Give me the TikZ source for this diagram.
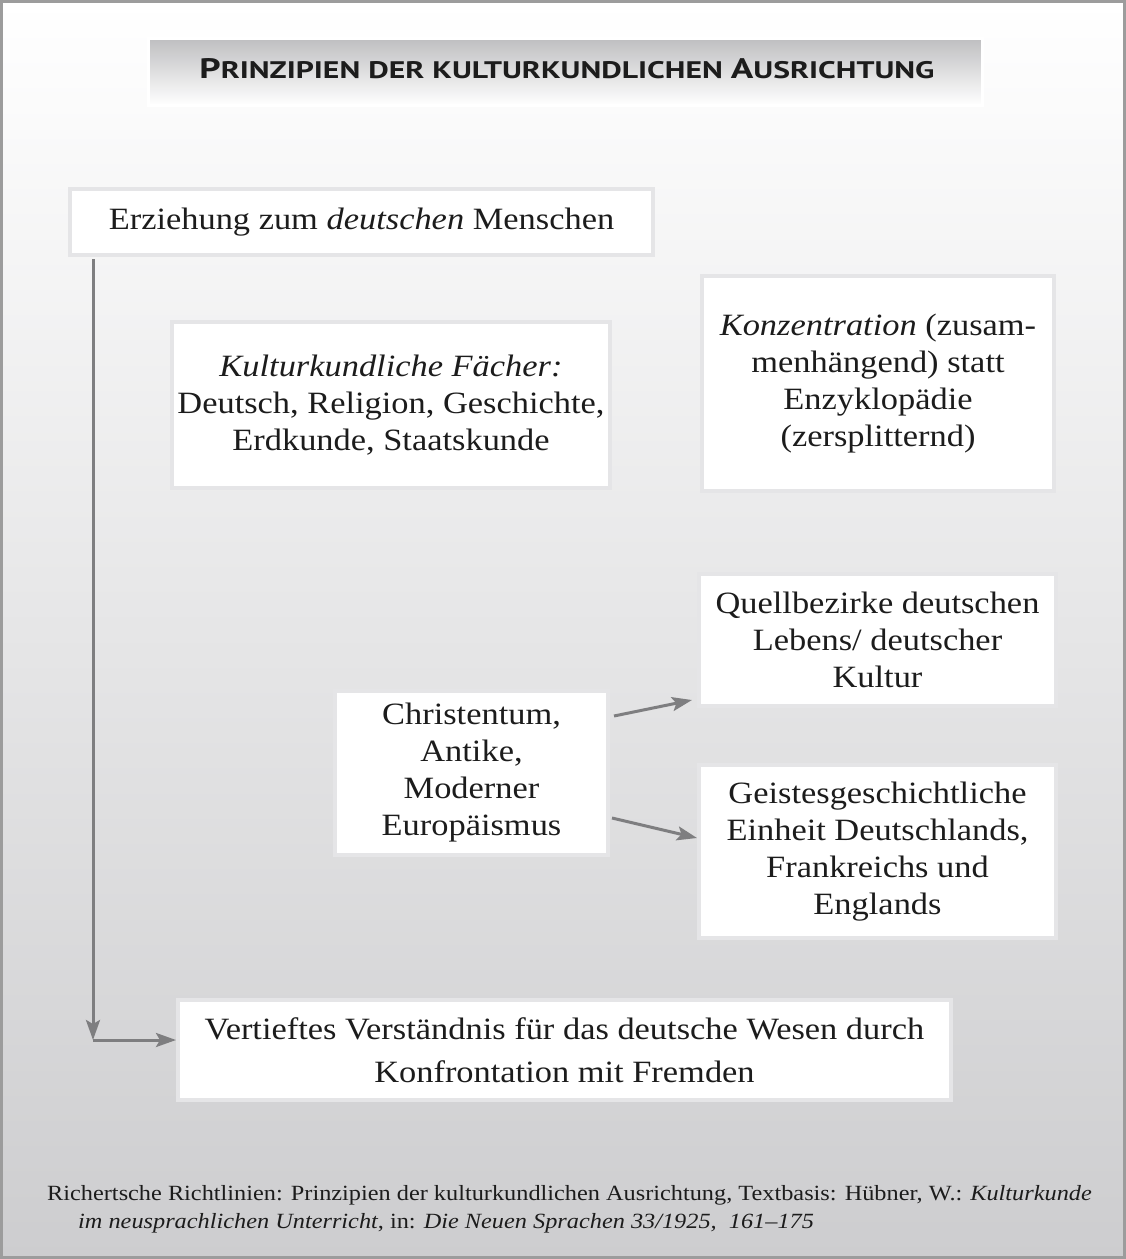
\documentclass[tikz,border=0pt]{standalone}
\usepackage{fontspec}
\setmainfont{Liberation Serif}[FakeStretch=1.11]
\newfontfamily\titlefont{PT Sans}
\newfontfamily\notefont{Liberation Serif}[FakeStretch=1.12]
\usetikzlibrary{arrows.meta,calc}
\definecolor{bggray}{HTML}{CDCDCF}
\definecolor{framegray}{HTML}{9C9C9C}
\definecolor{boxline}{HTML}{E5E5E7}
\definecolor{arrowgray}{HTML}{7E7E80}
\definecolor{titletop}{HTML}{BEBEC0}
\definecolor{textdark}{HTML}{1C1C1C}
\newcommand\tbig[1]{{\fontsize{24}{24}\selectfont #1}}
\newcommand\tsmall[1]{{\fontsize{20.4}{24}\selectfont #1}}
\tikzset{
  box/.style={draw=boxline, line width=4pt, fill=white, align=center,
    inner sep=0pt, text=textdark, font=\fontsize{31}{37}\selectfont},
  arr/.style={draw=arrowgray, line width=3pt,
    -{Stealth[length=20pt, width=14pt, inset=4pt]}}
}
\begin{document}
\begin{tikzpicture}[x=1pt, y=-1pt]
  % page background and frame
  \shade[top color=white, bottom color=bggray] (0,0) rectangle (1126,1259);
  \useasboundingbox (0,0) rectangle (1126,1259);
  \draw[framegray, line width=3pt] (1.5,1.5) rectangle (1124.5,1257.5);

  % title bar
  \shade[top color=titletop, bottom color=white] (148,38) rectangle (982,105);
  \draw[white, line width=3pt] (148,38) rectangle (982,105);
  \node[anchor=base, inner sep=0pt, text=textdark] (title) at (567,78)
    {\resizebox{735pt}{20pt}{\titlefont\bfseries\tbig{P}\tsmall{RINZIPIEN DER KULTURKUNDLICHEN }\tbig{A}\tsmall{USRICHTUNG}}};

  % boxes
  \node[box, minimum width=583pt, minimum height=66pt] (b1) at (361.5,222)
    {Erziehung zum \textit{deutschen} Menschen};
  \node[box, minimum width=438pt, minimum height=166pt] (b2) at (391,405)
    {\textit{Kulturkundliche Fächer:}\\Deutsch, Religion, Geschichte,\\Erdkunde, Staatskunde};
  \node[box, minimum width=352pt, minimum height=215pt] (b3) at (878,383.5)
    {\textit{Konzentration} (zusam-\\menhängend) statt\\Enzyklopädie\\(zersplitternd)};
  \node[box, minimum width=357pt, minimum height=132pt] (b4) at (877.5,640)
    {Quellbezirke deutschen\\Lebens/ deutscher\\Kultur};
  \node[box, minimum width=273pt, minimum height=164pt] (b5) at (471.5,773)
    {Christentum,\\Antike,\\Moderner\\Europäismus};
  \node[box, minimum width=357pt, minimum height=173pt] (b6) at (877.5,851.5)
    {Geistesgeschichtliche\\Einheit Deutschlands,\\Frankreichs und\\Englands};
  \node[box, minimum width=773pt, minimum height=100pt,
    font=\fontsize{31}{43}\selectfont] (b7) at (564.5,1050)
    {Vertieftes Verständnis für das deutsche Wesen durch\\Konfrontation mit Fremden};

  % connectors
  \draw[arr] ($(b5.north east)+(4,27)$) -- ($(b4.south west)+(-5,-8)$);
  \draw[arr] ($(b6.north west)+(-85,55)$) -- ($(b6.north west)+(0,75)$);
  \coordinate (corner) at ($(b1.south west)+(25,783)$);
  \draw[arr] ($(b1.south west)+(25,2)$) -- (corner);
  \draw[arr] (corner) -- (corner -| b7.west);

  % source note
  \node[anchor=base west, align=left, inner sep=0pt, text=textdark,
    font=\notefont\fontsize{21.7}{28}\selectfont] (note) at (47,1228)
    {Richertsche Richtlinien: Prinzipien der kulturkundlichen Ausrichtung, Textbasis: Hübner, W.: \textit{Kulturkunde}\\
     \hspace*{31pt}\textit{im neusprachlichen Unterricht}, in: \textit{Die Neuen Sprachen 33/1925,\ \ 161–175}};
\end{tikzpicture}
\end{document}
